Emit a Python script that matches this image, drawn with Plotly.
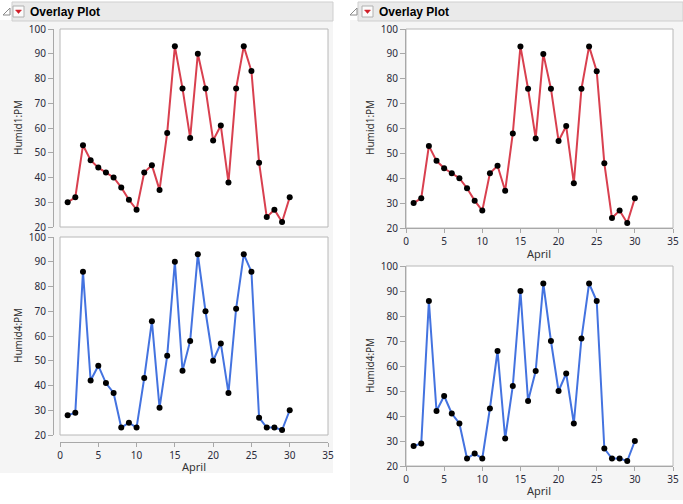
import plotly.graph_objects as go

# ---- data ----
april = list(range(1, 31))
humid1_pm = [30, 32, 53, 47, 44, 42, 40, 36, 31, 27, 42, 45, 35, 58, 93,
             76, 56, 90, 76, 55, 61, 38, 76, 93, 83, 46, 24, 27, 22, 32]
humid4_pm = [28, 29, 86, 42, 48, 41, 37, 23, 25, 23, 43, 66, 31, 52, 90,
             46, 58, 93, 70, 50, 57, 37, 71, 93, 86, 27, 23, 23, 22, 30]
x_ticks = [0, 5, 10, 15, 20, 25, 30, 35]
y_ticks = [20, 30, 40, 50, 60, 70, 80, 90, 100]
title_text = "Overlay Plot"
x_title = "April"
y_titles = ["Humid1:PM", "Humid4:PM"]

W, H = 683, 504
def fx(p): return p / W
def fy(p): return 1 - p / H

RED = "#D9404F"
BLUE = "#4473E0"
TICK_COLOR = "#2a2a3a"
AXIS_COLOR = "#a8a8a8"
FRAME_COLOR = "#b8b8b8"
FONT = "Noto Sans, Liberation Sans, Arial"

fig = go.Figure()

# subplot frames (px): x0, x1, y0(top), y1(bottom)
frames = {
    "LT": (60, 328, 29, 227),
    "LB": (60, 328, 237, 435),
    "RT": (406, 673, 29, 228),
    "RB": (406, 673, 266, 466),
}
axis_ids = {"LT": ("x", "y"), "LB": ("x2", "y2"), "RT": ("x3", "y3"), "RB": ("x4", "y4")}
series = {"LT": (humid1_pm, RED), "LB": (humid4_pm, BLUE),
          "RT": (humid1_pm, RED), "RB": (humid4_pm, BLUE)}

for key, (vals, col) in series.items():
    xa, ya = axis_ids[key]
    fig.add_trace(go.Scatter(
        x=april, y=vals, xaxis=xa, yaxis=ya, mode="lines+markers",
        line=dict(color=col, width=2),
        marker=dict(color="black", size=6),
        showlegend=False, hoverinfo="skip", cliponaxis=False))

tickfont = dict(family=FONT, size=10, color=TICK_COLOR)
common_x = dict(range=[0, 35], tickvals=x_ticks, showgrid=False, zeroline=False,
                showline=True, linecolor=AXIS_COLOR, linewidth=1, automargin=False,
                ticks="outside", ticklen=4, tickcolor=AXIS_COLOR, tickfont=tickfont)
common_y = dict(range=[20, 100], tickvals=y_ticks, showgrid=False, zeroline=False,
                showline=True, linecolor=AXIS_COLOR, linewidth=1, automargin=False,
                ticks="outside", ticklen=5, tickcolor=AXIS_COLOR, tickfont=tickfont)

layout_axes = {}
# left top
x0, x1, t, b = frames["LT"]
layout_axes["xaxis"] = dict(common_x, domain=[fx(x0), fx(x1)], anchor="y", visible=False)
layout_axes["yaxis"] = dict(common_y, domain=[fy(b), fy(t)], anchor="free", position=fx(53))
# left bottom
x0, x1, t, b = frames["LB"]
layout_axes["xaxis2"] = dict(common_x, domain=[fx(x0), fx(x1)], anchor="free", position=fy(442))
layout_axes["yaxis2"] = dict(common_y, domain=[fy(b), fy(t)], anchor="free", position=fx(53))
# right top
x0, x1, t, b = frames["RT"]
layout_axes["xaxis3"] = dict(common_x, domain=[fx(x0), fx(x1)], anchor="y3")
layout_axes["yaxis3"] = dict(common_y, domain=[fy(b), fy(t)], anchor="x3")
# right bottom
x0, x1, t, b = frames["RB"]
layout_axes["xaxis4"] = dict(common_x, domain=[fx(x0), fx(x1)], anchor="y4")
layout_axes["yaxis4"] = dict(common_y, domain=[fy(b), fy(t)], anchor="x4")

shapes = []
def rect(x0, y0, x1, y1, fill, line=None, lw=1):
    shapes.append(dict(type="rect", xref="paper", yref="paper",
                       x0=fx(x0), x1=fx(x1), y0=fy(y1), y1=fy(y0),
                       fillcolor=fill, line=dict(color=line or fill, width=lw if line else 0),
                       layer="below"))

def path(points, fill, line, lw=1):
    d = "M " + " L ".join(f"{fx(px)},{fy(py)}" for px, py in points) + " Z"
    shapes.append(dict(type="path", xref="paper", yref="paper", path=d,
                       fillcolor=fill, line=dict(color=line, width=lw), layer="above"))

# panel backgrounds
rect(0, 20, 333, 473, "#f5f5f5")
rect(350, 20, 683, 500, "#f5f5f5")
# plot frames
for key, (x0, x1, t, b) in frames.items():
    rect(x0, t, x1, b, "white", FRAME_COLOR)

annotations = []
# header bars
for hx0, hx1, tri_x, box_x in [(12, 333, 3, 13), (358, 683, 350, 362)]:
    rect(hx0, 2, hx1, 21, "#eaeaea", "#cfcfcf")
    path([(tri_x + 7, 8), (tri_x + 7, 15), (tri_x, 15)], "rgba(0,0,0,0)", "#8a8a8a")
    shapes.append(dict(type="rect", xref="paper", yref="paper",
                       x0=fx(box_x), x1=fx(box_x + 11), y0=fy(17), y1=fy(6),
                       fillcolor="#fbfbfb", line=dict(color="#b0b0b0", width=1), layer="above"))
    path([(box_x + 2.5, 10), (box_x + 8.5, 10), (box_x + 5.5, 13.5)], "#d0202a", "#d0202a", 0.5)
    annotations.append(dict(x=fx(box_x + 15), y=fy(11.5), xref="paper", yref="paper",
                            text=f"<b>{title_text}</b>", showarrow=False,
                            xanchor="left", yanchor="middle",
                            font=dict(family="Liberation Sans, Arial", size=12, color="black")))

# axis titles
for (cx, cy, txt) in [(18, 128, y_titles[0]), (18, 336, y_titles[1]),
                      (370, 128, y_titles[0]), (370, 366, y_titles[1])]:
    annotations.append(dict(x=fx(cx), y=fy(cy), xref="paper", yref="paper", text=txt,
                            showarrow=False, textangle=-90, xanchor="center", yanchor="middle",
                            font=dict(family=FONT, size=10, color="#333333")))
for (cx, cy) in [(194, 466), (539, 253), (539, 490)]:
    annotations.append(dict(x=fx(cx), y=fy(cy), xref="paper", yref="paper", text=x_title,
                            showarrow=False, xanchor="center", yanchor="middle",
                            font=dict(family=FONT, size=11, color="#333333")))

fig.update_layout(
    template="none",
    width=W, height=H, margin=dict(l=0, r=0, t=0, b=0, pad=0, autoexpand=False),
    paper_bgcolor="white", plot_bgcolor="rgba(0,0,0,0)",
    shapes=shapes, annotations=annotations, showlegend=False,
    **layout_axes)

fig.write_html("out.html", config={"displayModeBar": False, "staticPlot": True},
               post_script="document.body.style.margin='0';document.body.style.overflow='hidden';")
